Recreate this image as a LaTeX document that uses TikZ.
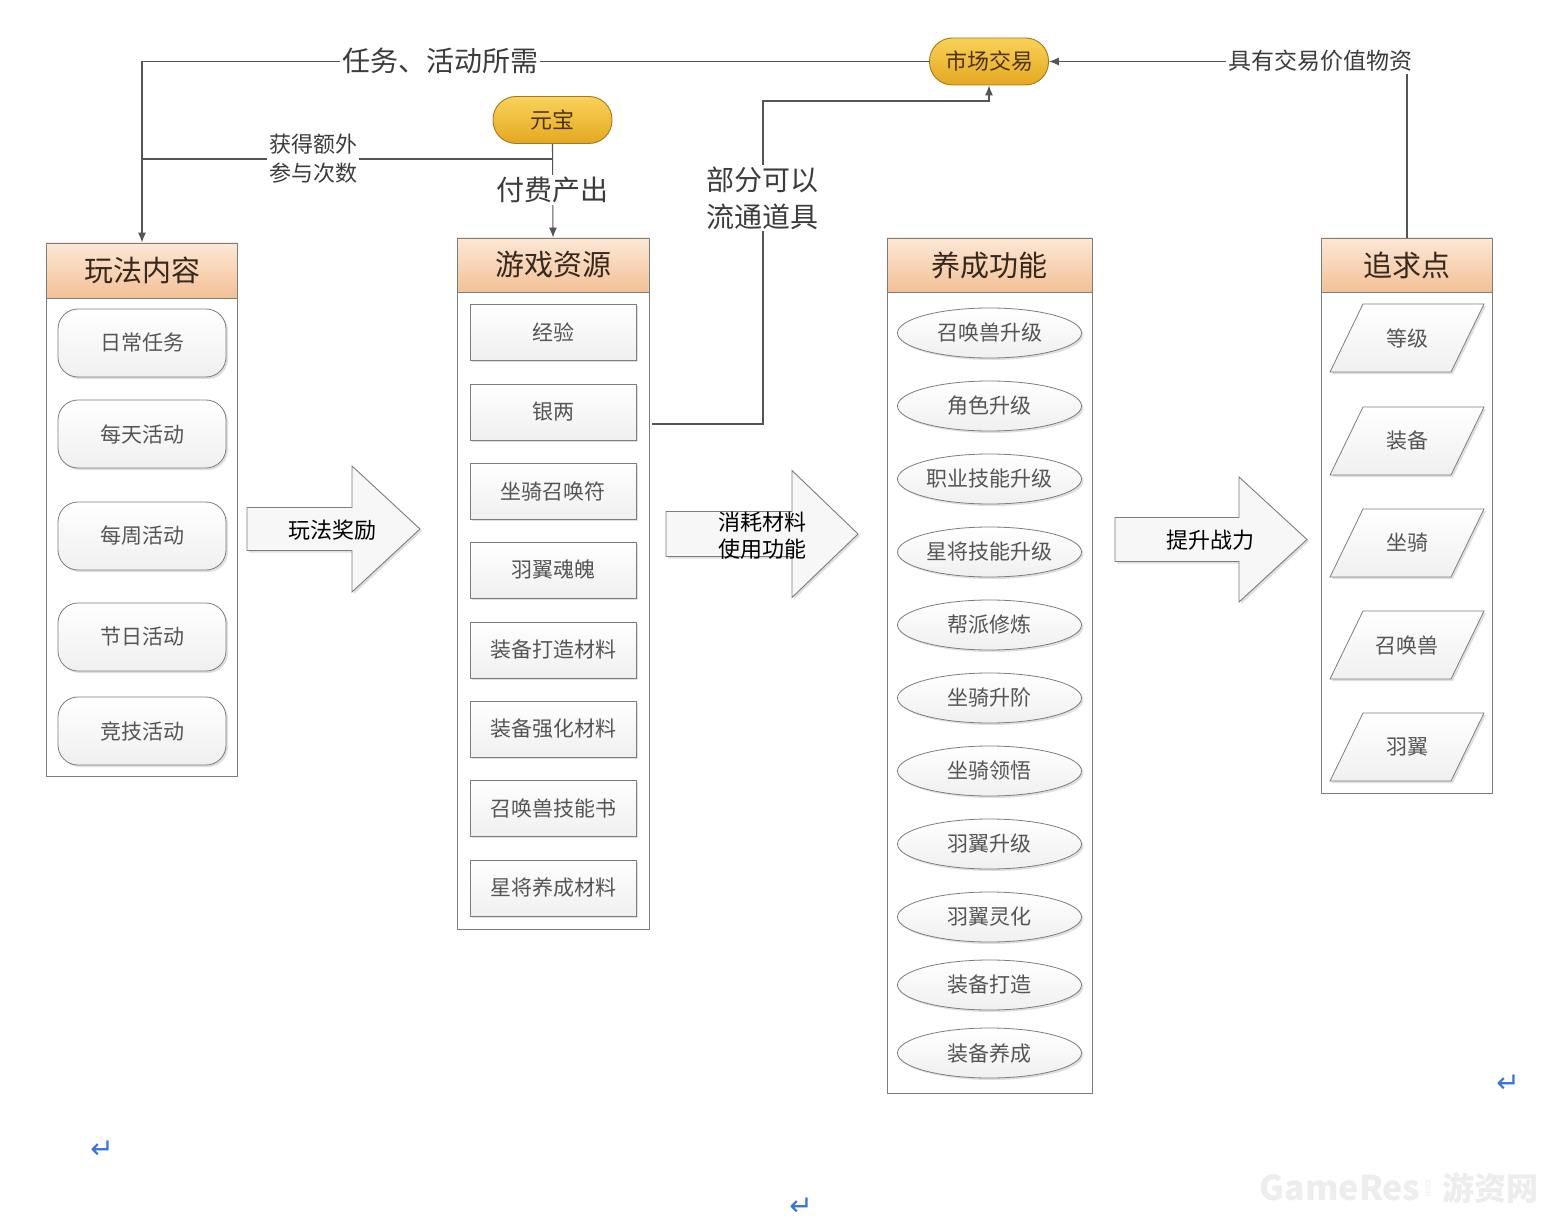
\documentclass[tikz,border=0pt]{standalone}
\usepackage{fontspec}
\newfontfamily\cjk{Noto Sans CJK SC}
\newfontfamily\symb{DejaVu Sans}
\usetikzlibrary{arrows.meta,positioning,calc,shapes.geometric,shadows}
\definecolor{lnk}{RGB}{85,85,85}
\definecolor{lnktxt}{RGB}{60,60,60}
\definecolor{frm}{RGB}{125,125,125}
\definecolor{hdtop}{RGB}{252,232,214}
\definecolor{hdbot}{RGB}{243,192,150}
\definecolor{hdtxt}{RGB}{55,40,30}
\definecolor{goldtop}{RGB}{249,210,90}
\definecolor{goldbot}{RGB}{228,168,32}
\definecolor{goldln}{RGB}{165,120,25}
\definecolor{goldtxt}{RGB}{80,50,10}
\definecolor{txt}{RGB}{85,85,85}
\definecolor{retmark}{RGB}{55,115,220}

\tikzset{
  conn/.style={draw=lnk,line width=1.1pt},
  arr/.style={-{Latex[length=10pt,width=8pt]}},
  softshadow/.style={drop shadow={shadow xshift=2pt,shadow yshift=-2pt,opacity=0.25}},
  colbox/.style={draw=frm,fill=white,line width=0.9pt,inner sep=0pt},
  headbox/.style={draw=frm,top color=hdtop,bottom color=hdbot,line width=0.9pt,inner sep=0pt,
    anchor=north,font=\cjk\fontsize{29}{32}\selectfont,text=hdtxt},
  itemtxt/.style={font=\cjk\fontsize{21}{25}\selectfont,text=txt,inner sep=0pt},
  itembox/.style={itemtxt,softshadow,draw=frm,line width=0.8pt,top color=white,bottom color=black!6},
  playbox/.style={itembox,rounded corners=20pt,minimum width=168pt,minimum height=68pt},
  resbox/.style={itembox,minimum width=166pt,minimum height=56pt},
  growbox/.style={itembox,ellipse,minimum width=184pt,minimum height=50pt},
  goalshape/.style={softshadow,draw=frm,line width=0.8pt,top color=white,bottom color=black!6},
  goldbox/.style={draw=goldln,line width=0.9pt,top color=goldtop,bottom color=goldbot,rounded corners=23pt,
    minimum width=119pt,minimum height=47pt,inner sep=0pt,font=\cjk\fontsize{22}{26}\selectfont,text=goldtxt},
  lbl/.style={fill=white,inner sep=2pt,text=lnktxt,align=center},
  bigarrow/.style={draw=frm,fill=black!3,line width=0.9pt,softshadow},
  arrowtxt/.style={font=\cjk\fontsize{22}{27}\selectfont,text=black,align=center,inner sep=0pt},
  retmk/.style={font=\symb\fontsize{28}{28}\selectfont,text=retmark,inner sep=0pt},
  wmark/.style={font=\cjk\bfseries,text=black!7,inner sep=0pt}
}

\begin{document}
\begin{tikzpicture}[x=1pt,y=-1pt]
  \fill[white] (0,0) rectangle (1568,1222);
  \useasboundingbox (0,0) rectangle (1568,1222);

  % columns
  \node[colbox,minimum width=191pt,minimum height=533pt] (c1) at (142,509.5) {};
  \node[colbox,minimum width=192pt,minimum height=691pt] (c2) at (553,583.5) {};
  \node[colbox,minimum width=205pt,minimum height=855pt] (c3) at (989.5,665.5) {};
  \node[colbox,minimum width=171pt,minimum height=555pt] (c4) at (1407,515.5) {};
  \node[headbox,minimum width=191pt,minimum height=55pt] (h1) at (c1.north) {玩法内容};
  \node[headbox,minimum width=192pt,minimum height=54pt] (h2) at (c2.north) {游戏资源};
  \node[headbox,minimum width=205pt,minimum height=54pt] (h3) at (c3.north) {养成功能};
  \node[headbox,minimum width=171pt,minimum height=54pt] (h4) at (c4.north) {追求点};

  \foreach \y/\t [count=\i] in {343/日常任务,434/每天活动,536/每周活动,637/节日活动,731/竞技活动}
    \node[playbox] (p\i) at (142,\y) {\t};
  \foreach \y/\t [count=\i] in {332/经验,412/银两,491/坐骑召唤符,570/羽翼魂魄,650/装备打造材料,
      729/装备强化材料,808/召唤兽技能书,888/星将养成材料}
    \node[resbox] (r\i) at (553,\y) {\t};
  \foreach \y/\t [count=\i] in {333/召唤兽升级,406/角色升级,479/职业技能升级,552/星将技能升级,625/帮派修炼,
      698/坐骑升阶,771/坐骑领悟,844/羽翼升级,917/羽翼灵化,985/装备打造,1053/装备养成}
    \node[growbox] (g\i) at (989.5,\y) {\t};
  \foreach \y/\t [count=\i] in {338/等级,441/装备,543/坐骑,645/召唤兽,747/羽翼} {
    \coordinate (kc\i) at (1407,\y);
    \draw[goalshape] ([shift={(-77,34)}]kc\i) -- ([shift={(-44,-34)}]kc\i)
      -- ([shift={(77,-34)}]kc\i) -- ([shift={(44,34)}]kc\i) -- cycle;
    \node[itemtxt] (k\i) at (kc\i) {\t};
  }

  % block arrows
  \foreach \xl/\xb/\xt/\yc/\sh/\hh in {247/352/420/529/21.5/63,666/792/858/534/22.5/63.5,1115/1239/1307/539.5/22/62.5}
    \draw[bigarrow] (\xl,\yc-\sh) -- (\xb,\yc-\sh) -- (\xb,\yc-\hh) -- (\xt,\yc)
      -- (\xb,\yc+\hh) -- (\xb,\yc+\sh) -- (\xl,\yc+\sh) -- cycle;
  \node[arrowtxt] (a1) at (332,530) {玩法奖励};
  \node[arrowtxt] (a2) at (762,536) {消耗材料\\使用功能};
  \node[arrowtxt] (a3) at (1210,540) {提升战力};

  % money nodes
  \node[goldbox] (yb) at (552.5,120) {元宝};
  \node[goldbox] (mkt) at (989,61.5) {市场交易};

  % connectors
  \draw[conn,arr] (mkt.west) -| (c1.north);
  \coordinate (jn) at (c1.north |- 0,159);
  \draw[conn] (yb.south) |- (jn);
  \draw[conn,arr] (yb.south) -- (c2.north);
  \coordinate (sv) at (652,424);
  \draw[conn,arr] (sv) -| (763,101) -| (mkt.south);
  \draw[conn,arr] (c4.north) |- (mkt.east);

  \node[lbl,font=\cjk\fontsize{28}{32}\selectfont] (l1) at (440,61) {任务、活动所需};
  \node[lbl,font=\cjk\fontsize{22}{29}\selectfont] (l2) at (313,159) {获得额外\\参与次数};
  \node[lbl,font=\cjk\fontsize{28}{32}\selectfont] (l3) at (552,190) {付费产出};
  \node[lbl,font=\cjk\fontsize{28}{37}\selectfont] (l4) at (762,198) {部分可以\\流通道具};
  \node[lbl,font=\cjk\fontsize{23}{27}\selectfont] (l5) at (1320,61) {具有交易价值物资};

  % paragraph marks and watermark
  \node[retmk] (m1) at (102,1150) {↵};
  \node[retmk] (m2) at (1508,1084) {↵};
  \node[retmk] (m3) at (801,1207) {↵};
  \node[wmark,font=\cjk\bfseries\fontsize{34}{34}\selectfont] (wm1) at (1340,1188) {GameRes};
  \node[wmark,font=\cjk\fontsize{8}{8}\selectfont,rotate=-90] (wm2) at (1428,1188) {.com};
  \node[wmark,font=\cjk\bfseries\fontsize{32}{32}\selectfont] (wm3) at (1490,1188) {游资网};
\end{tikzpicture}
\end{document}
